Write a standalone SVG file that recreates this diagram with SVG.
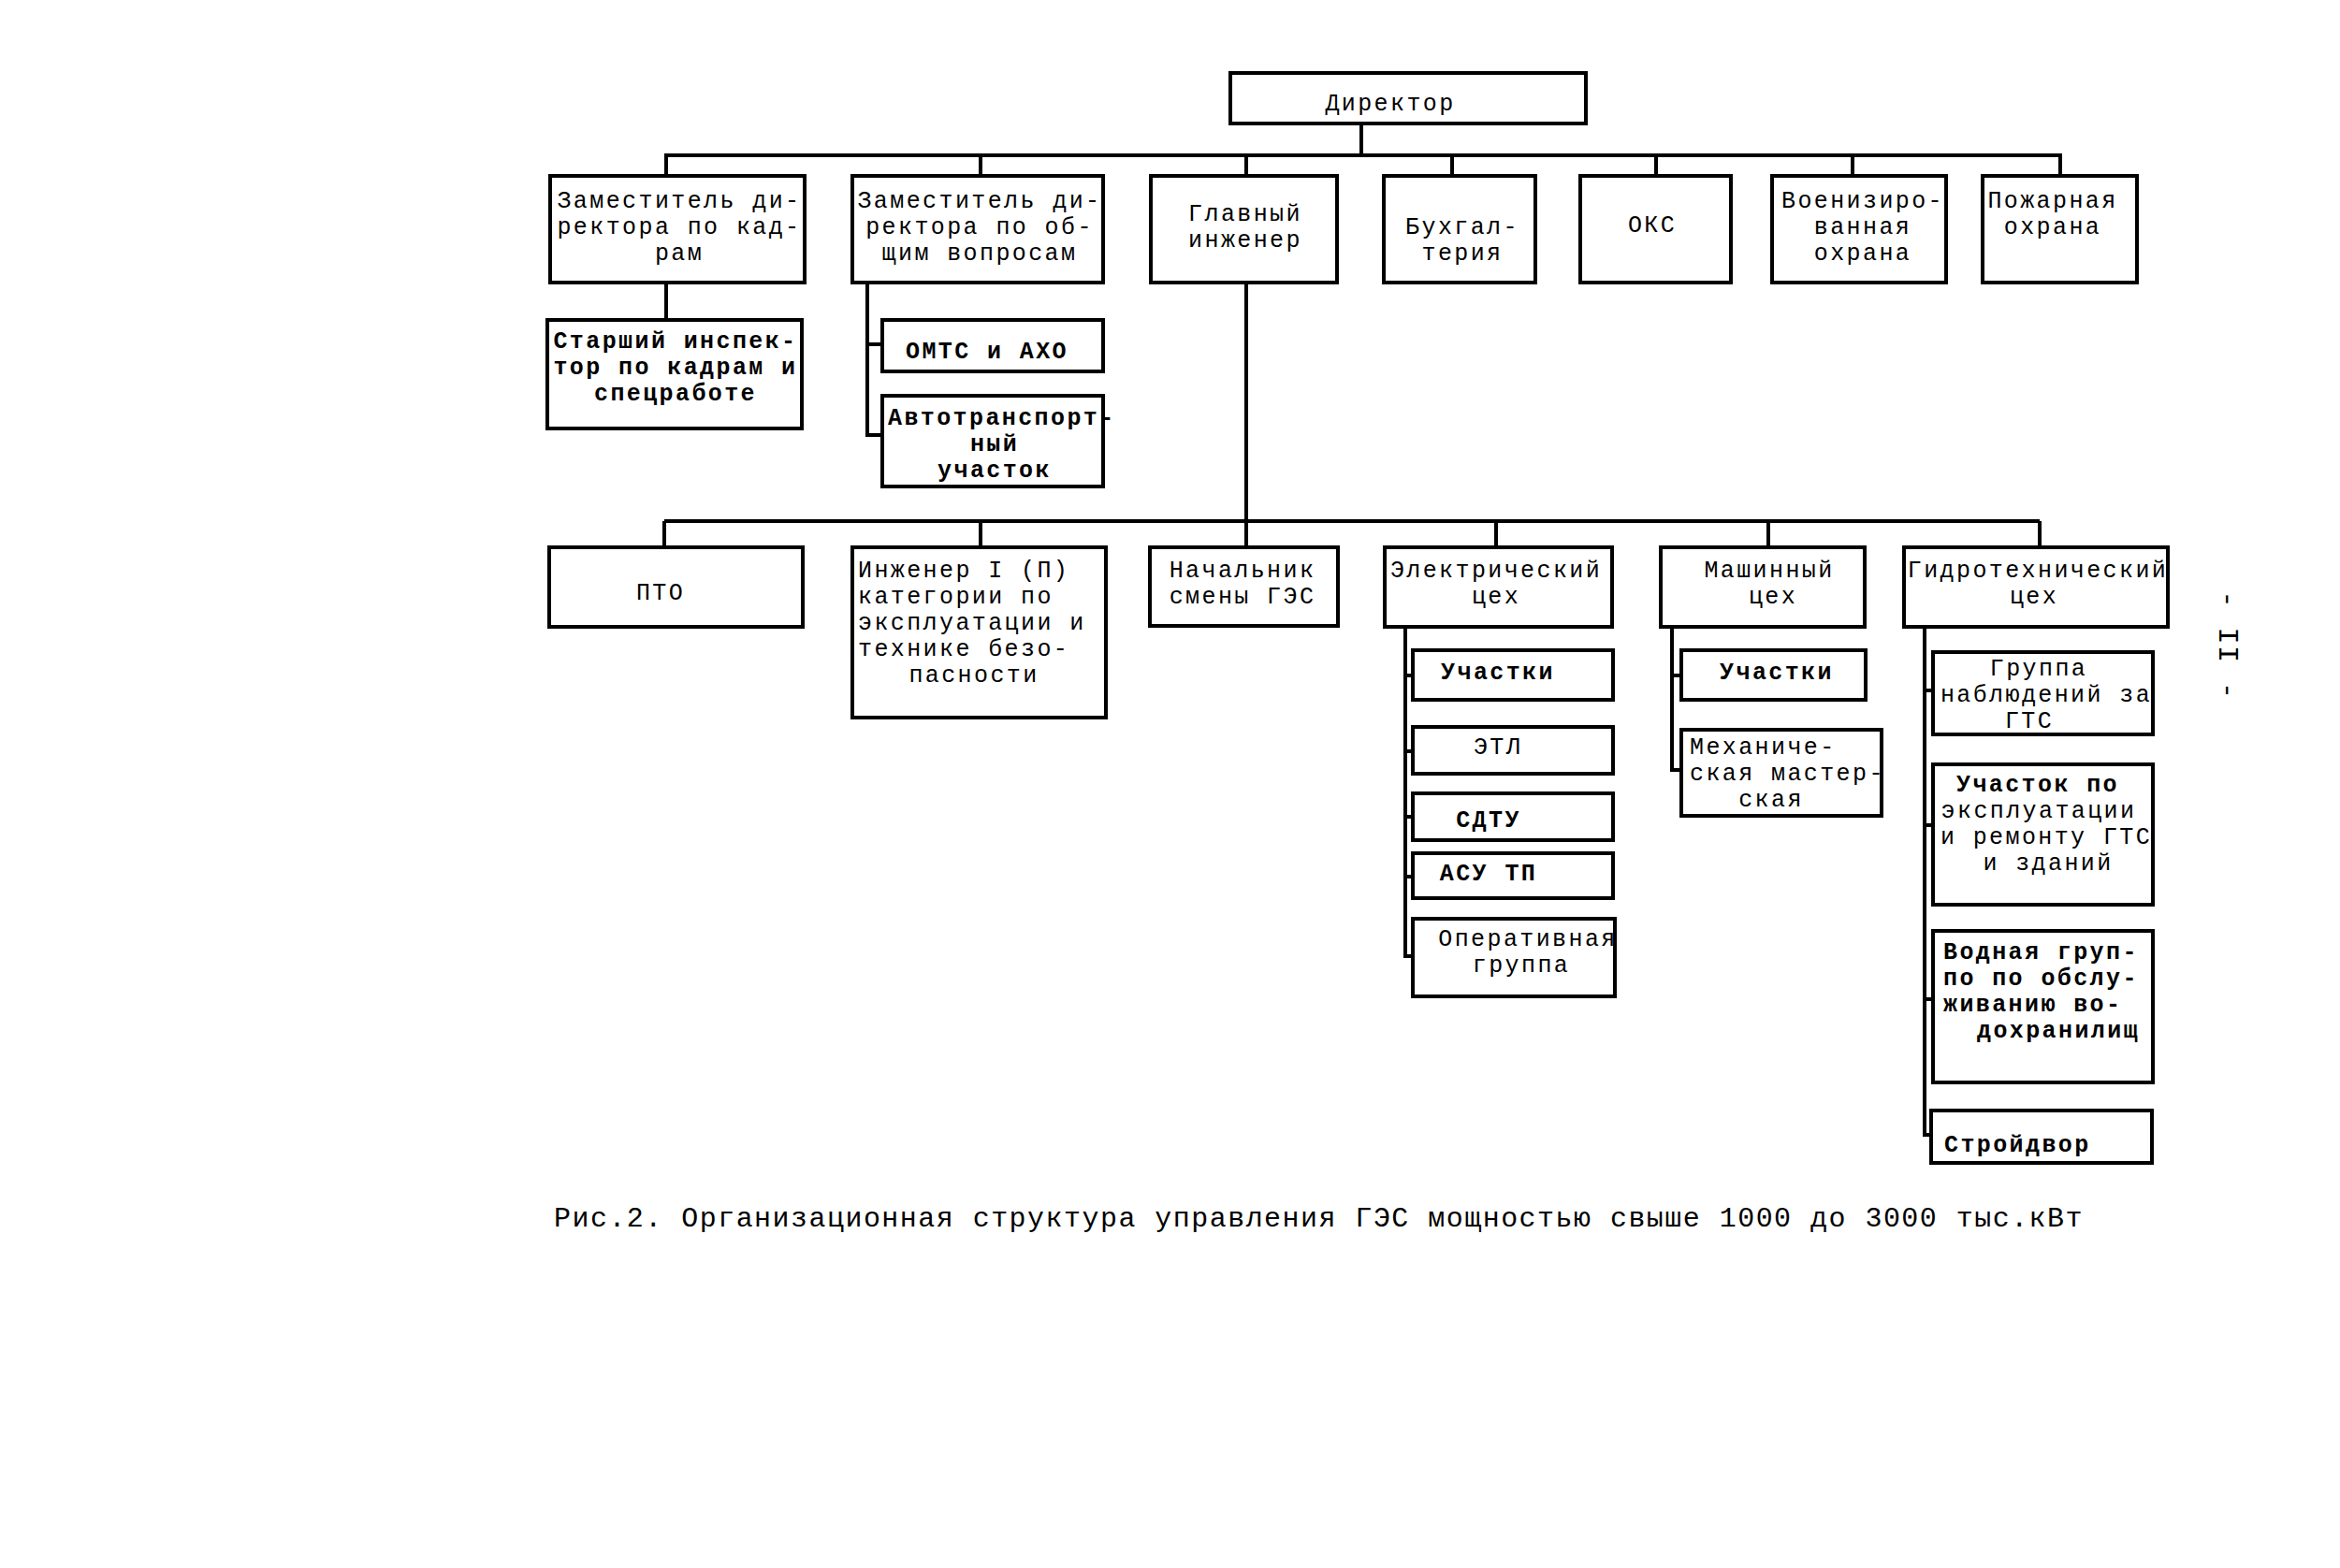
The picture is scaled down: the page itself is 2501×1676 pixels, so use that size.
<svg xmlns="http://www.w3.org/2000/svg" width="2501" height="1676" viewBox="0 0 2501 1676">
<style>
.b{fill:#fff;stroke:#000;stroke-width:4}
.c{fill:none;stroke:#000;stroke-width:4}
text{font-family:"Liberation Mono","DejaVu Sans Mono",monospace;font-size:25px;letter-spacing:2.4px;fill:#000}
.m{text-anchor:middle}
.bd{font-weight:bold}
.cap{font-size:30px;letter-spacing:1.5px}
</style>
<rect width="2501" height="1676" fill="#fff"/>
<g id="connectors">
<path class="c" d="M1455,132V166M710,166H2204M712,166V188M1048,166V188M1332,166V188M1552,166V188M1770,166V188M1980,166V188M2202,166V188"/>
<path class="c" d="M712,302V342"/>
<path class="c" d="M927,302V465H943M927,368H943"/>
<path class="c" d="M1332,302V557M710,557H2180M710,557V585M1048,557V585M1332,557V585M1599,557V585M1890,557V585M2180,557V585"/>
<path class="c" d="M1502,670V1022H1510M1502,722H1510M1502,803H1510M1502,873H1510M1502,937H1510"/>
<path class="c" d="M1787,670V823H1797M1787,722H1797"/>
<path class="c" d="M2057,670V1213H2066M2057,738H2066M2057,882H2066M2057,1068H2066"/>
</g>
<g id="director"><rect class="b" x="1315" y="78" width="380" height="54"/><text class="m" x="1486" y="118">Директор</text></g>
<g id="zam-kadry"><rect class="b" x="588" y="188" width="272" height="114"/><text class="m" x="726" y="222">Заместитель ди-</text><text class="m" x="726" y="250">ректора по кад-</text><text class="m" x="726" y="278">рам</text></g>
<g id="zam-obshie"><rect class="b" x="911" y="188" width="268" height="114"/><text class="m" x="1047" y="222">Заместитель ди-</text><text class="m" x="1047" y="250">ректора по об-</text><text class="m" x="1047" y="278">щим вопросам</text></g>
<g id="glavniy"><rect class="b" x="1230" y="188" width="199" height="114"/><text class="m" x="1331" y="236">Главный</text><text class="m" x="1331" y="264">инженер</text></g>
<g id="buh"><rect class="b" x="1479" y="188" width="162" height="114"/><text class="m" x="1563" y="250">Бухгал-</text><text class="m" x="1563" y="278">терия</text></g>
<g id="oks"><rect class="b" x="1689" y="188" width="161" height="114"/><text class="m" x="1766" y="248">ОКС</text></g>
<g id="voeniz"><rect class="b" x="1894" y="188" width="186" height="114"/><text class="m" x="1991" y="222">Военизиро-</text><text class="m" x="1991" y="250">ванная</text><text class="m" x="1991" y="278">охрана</text></g>
<g id="pozhar"><rect class="b" x="2119" y="188" width="165" height="114"/><text class="m" x="2194" y="222">Пожарная</text><text class="m" x="2194" y="250">охрана</text></g>
<g id="starshiy"><rect class="b" x="585" y="342" width="272" height="116"/><text class="m bd" x="722" y="372">Старший инспек-</text><text class="m bd" x="722" y="400">тор по кадрам и</text><text class="m bd" x="722" y="428">спецработе</text></g>
<g id="omts"><rect class="b" x="943" y="342" width="236" height="55"/><text class="m bd" x="1055" y="383">ОМТС и АХО</text></g>
<g id="avto"><rect class="b" x="943" y="423" width="236" height="97"/><text class="bd" x="949" y="454">Автотранспорт-</text><text class="m bd" x="1063" y="482">ный</text><text class="m bd" x="1063" y="510">участок</text></g>
<g id="pto"><rect class="b" x="587" y="585" width="271" height="85"/><text class="m" x="706" y="641">ПТО</text></g>
<g id="inzhener"><rect class="b" x="911" y="585" width="271" height="182"/><text x="917" y="617">Инженер I (П)</text><text x="917" y="645">категории по</text><text x="917" y="673">эксплуатации и</text><text x="917" y="701">технике безо-</text><text class="m" x="1041" y="729">пасности</text></g>
<g id="nachalnik"><rect class="b" x="1229" y="585" width="201" height="84"/><text class="m" x="1328" y="617">Начальник</text><text class="m" x="1328" y="645">смены ГЭС</text></g>
<g id="elektr"><rect class="b" x="1480" y="585" width="243" height="85"/><text class="m" x="1599" y="617">Электрический</text><text class="m" x="1599" y="645">цех</text></g>
<g id="mash"><rect class="b" x="1775" y="585" width="218" height="85"/><text class="m" x="1891" y="617">Машинный</text><text class="m" x="1895" y="645">цех</text></g>
<g id="gidro"><rect class="b" x="2035" y="585" width="282" height="85"/><text class="m" x="2178" y="617">Гидротехнический</text><text class="m" x="2174" y="645">цех</text></g>
<g id="e-uchastki"><rect class="b" x="1510" y="695" width="214" height="53"/><text class="m bd" x="1601" y="726">Участки</text></g>
<g id="etl"><rect class="b" x="1510" y="777" width="214" height="50"/><text class="m" x="1601" y="806">ЭТЛ</text></g>
<g id="sdtu"><rect class="b" x="1510" y="848" width="214" height="50"/><text class="m bd" x="1591" y="884">СДТУ</text></g>
<g id="asu"><rect class="b" x="1510" y="912" width="214" height="48"/><text class="m bd" x="1591" y="941">АСУ ТП</text></g>
<g id="oper"><rect class="b" x="1510" y="982" width="216" height="83"/><text class="m" x="1633" y="1011">Оперативная</text><text class="m" x="1626" y="1039">группа</text></g>
<g id="m-uchastki"><rect class="b" x="1797" y="695" width="197" height="53"/><text class="m bd" x="1899" y="726">Участки</text></g>
<g id="mehmaster"><rect class="b" x="1797" y="780" width="214" height="92"/><text x="1806" y="806">Механиче-</text><text x="1806" y="834">ская мастер-</text><text class="m" x="1893" y="862">ская</text></g>
<g id="gruppa-nabl"><rect class="b" x="2066" y="697" width="235" height="88"/><text class="m" x="2179" y="722">Группа</text><text class="m" x="2187" y="750">наблюдений за</text><text class="m" x="2169" y="778">ГТС</text></g>
<g id="uchastok-expl"><rect class="b" x="2066" y="817" width="235" height="150"/><text class="m bd" x="2178" y="846">Участок по</text><text class="m" x="2179" y="874">эксплуатации</text><text class="m" x="2187" y="902">и ремонту ГТС</text><text class="m" x="2189" y="930">и зданий</text></g>
<g id="vodnaya"><rect class="b" x="2066" y="995" width="235" height="162"/><text class="bd" x="2077" y="1025">Водная груп-</text><text class="bd" x="2077" y="1053">по по обслу-</text><text class="bd" x="2077" y="1081">живанию во-</text><text class="bd" x="2113" y="1109">дохранилищ</text></g>
<g id="stroydvor"><rect class="b" x="2064" y="1187" width="236" height="56"/><text class="bd" x="2078" y="1231">Стройдвор</text></g>
<text class="cap" x="592" y="1311" textLength="1635" lengthAdjust="spacingAndGlyphs">Рис.2. Организационная структура управления ГЭС мощностью свыше 1000 до 3000 тыс.кВт</text>
<text class="m cap" transform="translate(2372,690) rotate(90)">- II -</text>
</svg>
